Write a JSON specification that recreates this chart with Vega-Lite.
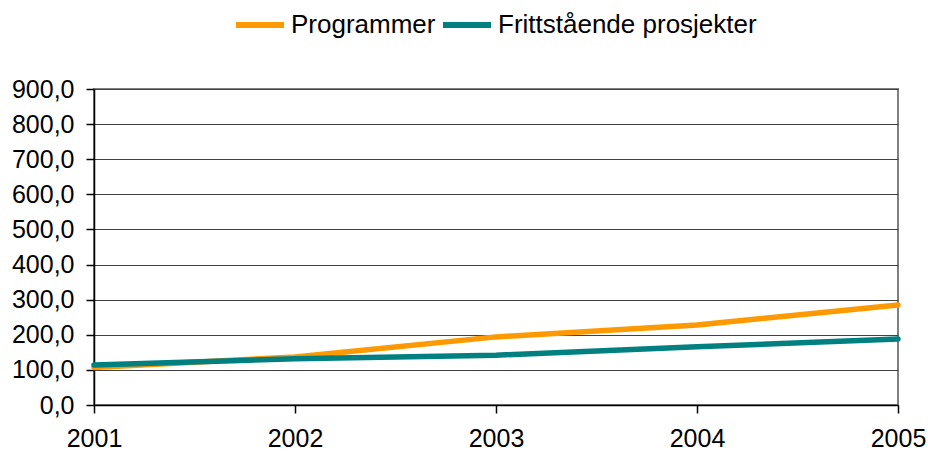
{
  "$schema": "https://vega.github.io/schema/vega-lite/v6.json",
  "width": 804,
  "height": 316,
  "autosize": {"type": "none"},
  "padding": {"left": 94, "top": 89, "right": 30, "bottom": 49},
  "background": "white",
  "config": {
    "font": "Liberation Sans",
    "view": {"stroke": "#808080", "strokeWidth": 2},
    "axis": {"labelFont": "Liberation Sans", "labelColor": "#000000", "labelFontSize": 25}
  },
  "data": {
    "values": [
      {"year": "2001", "serie": "Programmer", "value": 107},
      {"year": "2002", "serie": "Programmer", "value": 137},
      {"year": "2003", "serie": "Programmer", "value": 194},
      {"year": "2004", "serie": "Programmer", "value": 228},
      {"year": "2005", "serie": "Programmer", "value": 285},
      {"year": "2001", "serie": "Frittstående prosjekter", "value": 114},
      {"year": "2002", "serie": "Frittstående prosjekter", "value": 132},
      {"year": "2003", "serie": "Frittstående prosjekter", "value": 142},
      {"year": "2004", "serie": "Frittstående prosjekter", "value": 166},
      {"year": "2005", "serie": "Frittstående prosjekter", "value": 188}
    ]
  },
  "mark": {"type": "line", "strokeWidth": 5.5, "strokeCap": "round", "strokeJoin": "round"},
  "encoding": {
    "x": {
      "field": "year",
      "type": "ordinal",
      "scale": {"type": "point", "padding": 0},
      "axis": {
        "title": null,
        "labelAngle": 0,
        "domainColor": "#000000",
        "domainWidth": 1.5,
        "tickColor": "#000000",
        "tickSize": 8,
        "tickWidth": 1.5,
        "labelPadding": 13,
        "grid": false
      }
    },
    "y": {
      "field": "value",
      "type": "quantitative",
      "scale": {"domain": [0, 900], "nice": false},
      "axis": {
        "title": null,
        "values": [0, 100, 200, 300, 400, 500, 600, 700, 800, 900],
        "labelExpr": "replace(format(datum.value, '.1f'), '.', ',')",
        "domainColor": "#000000",
        "domainWidth": 1.5,
        "tickColor": "#000000",
        "tickSize": 8,
        "tickWidth": 1.5,
        "labelPadding": 12,
        "grid": true,
        "gridColor": "#404040",
        "gridWidth": 1
      }
    },
    "color": {
      "field": "serie",
      "type": "nominal",
      "scale": {"domain": ["Programmer", "Frittstående prosjekter"], "range": ["#FF9900", "#008080"]},
      "legend": {
        "title": null,
        "orient": "none",
        "direction": "horizontal",
        "legendX": 139,
        "legendY": -91,
        "labelFontSize": 26,
        "labelLimit": 500,
        "labelColor": "#000000",
        "labelFont": "Liberation Sans",
        "symbolType": "stroke",
        "symbolSize": 2304,
        "symbolStrokeWidth": 6,
        "labelOffset": 4,
        "columnPadding": -5
      }
    }
  }
}
